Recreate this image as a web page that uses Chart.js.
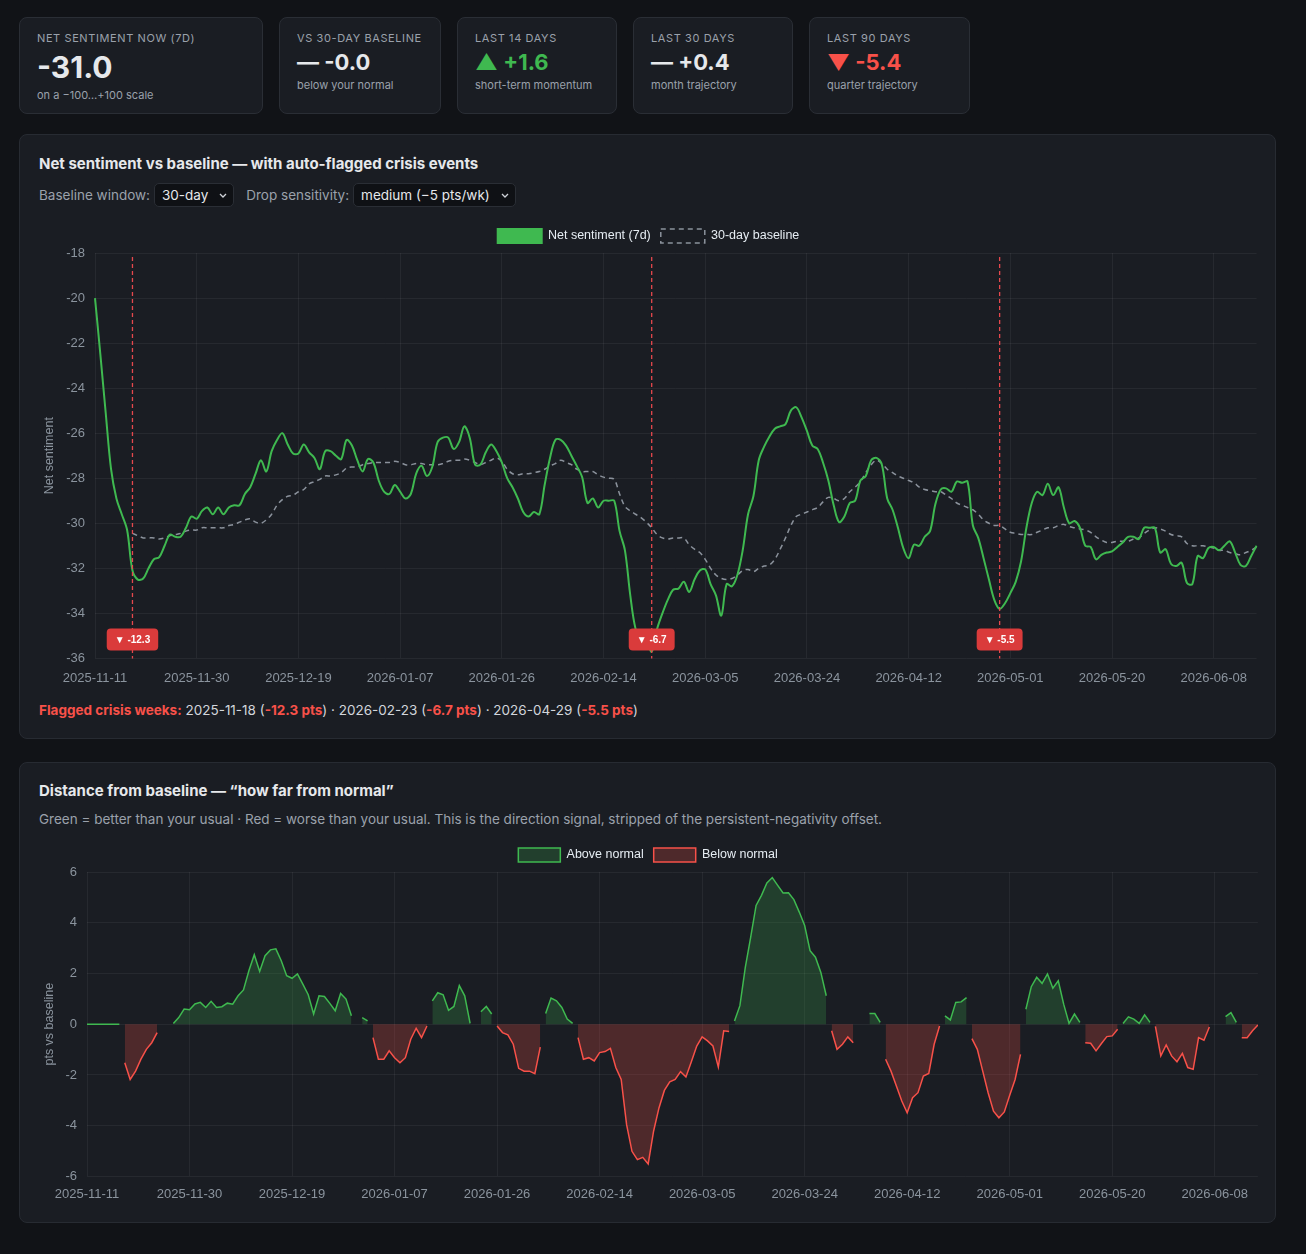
<!DOCTYPE html>
<html><head><meta charset="utf-8">
<script src="https://cdn.jsdelivr.net/npm/chart.js@4.4.1/dist/chart.umd.min.js"></script>
<style>
*{box-sizing:border-box;margin:0;padding:0}
body{background:#111317;width:1306px;height:1254px;font-family:Inter,"Noto Sans",sans-serif;color:#e6e8eb;position:relative;overflow:hidden}
.kpi{position:absolute;top:17px;height:97px;background:#1a1d23;border:1px solid #2a2e35;border-radius:8px;padding:13px 0 0 17px}
.kpi .lab{font-size:11px;letter-spacing:.6px;color:#9aa1ab;text-transform:uppercase;line-height:14px;white-space:nowrap}
.kpi .val{font-size:22px;font-weight:700;line-height:26px;margin-top:4px;white-space:nowrap}
.kpi .sub{font-size:11px;color:#9aa1ab;margin-top:3px;line-height:14px;white-space:nowrap}
.kpi.big .val{font-size:30px;line-height:36px}
.up{color:#3fb950}.down{color:#f85149}.flat{color:#e6e8eb}
.panel{position:absolute;left:19px;width:1257px;background:#1a1d23;border:1px solid #272b32;border-radius:8px}
.ptitle{position:absolute;left:19px;font-size:15px;font-weight:700;line-height:20px;color:#e6e8eb;white-space:nowrap}
.psub{position:absolute;left:19px;font-size:13.5px;line-height:18px;color:#9aa1ab;white-space:nowrap}
.ctrl{position:absolute;left:19px;top:47px;height:26px;display:flex;align-items:center;font-size:13.5px;color:#9aa1ab;white-space:nowrap}
.sel{display:inline-flex;align-items:center;height:24px;background:#0f1115;border:1px solid #2a2e35;border-radius:5px;color:#e6e8eb;padding:0 6px 0 7px;margin-left:4px;margin-right:12px}
.sel svg{margin-left:11px}
.foot{position:absolute;left:19px;top:566px;font-size:13.5px;line-height:18px;color:#d2d6dc;white-space:nowrap}
.foot .r{color:#f85149;font-weight:700}
.cw{position:absolute;left:38px}
</style></head>
<body>
<div id="kpis"></div>

<div class="panel" style="top:134px;height:605px">
  <div class="ptitle" style="top:19px">Net sentiment vs baseline — with auto-flagged crisis events</div>
  <div class="ctrl">Baseline window:<span class="sel">30-day<svg width="8" height="5" viewBox="0 0 8 5"><path d="M1 1l3 3 3-3" stroke="#cfd3d9" stroke-width="1.3" fill="none"/></svg></span>Drop sensitivity:<span class="sel">medium (−5 pts/wk)<svg width="8" height="5" viewBox="0 0 8 5"><path d="M1 1l3 3 3-3" stroke="#cfd3d9" stroke-width="1.3" fill="none"/></svg></span></div>
  <div class="foot" id="foot"></div>
</div>
<div class="cw" style="top:219px;width:1221px;height:479px"><canvas id="c1"></canvas></div>

<div class="panel" style="top:762px;height:461px">
  <div class="ptitle" style="top:18px">Distance from baseline — “how far from normal”</div>
  <div class="psub" style="top:47px">Green = better than your usual · Red = worse than your usual. This is the direction signal, stripped of the persistent-negativity offset.</div>
</div>
<div class="cw" style="top:838px;width:1220px;height:374px"><canvas id="c2"></canvas></div>

<script>
// ---------- data ----------
const START_DATE = '2025-11-11';
const DAY_COUNT = 218;

const kpiLabels = ['Net sentiment now (7d)', 'vs 30-day baseline', 'Last 14 days', 'Last 30 days', 'Last 90 days'];
const kpiValues = ['-31.0', '-0.0', '+1.6', '+0.4', '-5.4'];
const kpiDirs   = ['none', 'flat', 'up', 'flat', 'down'];
const kpiSubs   = ['on a −100…+100 scale', 'below your normal', 'short-term momentum', 'month trajectory', 'quarter trajectory'];

const crisisDates = ['2025-11-18', '2026-02-23', '2026-04-29'];
const crisisDrops = [-12.3, -6.7, -5.5];

const netSentiment = [
-20.0,-22.5,-25.1,-27.6,-28.9,-29.6,-30.3,-32.1,-32.5,-32.45,
-32.0,-31.6,-31.5,-31.0,-30.5,-30.6,-30.6,-30.2,-29.7,-29.8,
-29.45,-29.3,-29.6,-29.3,-29.6,-29.3,-29.2,-29.2,-28.7,-28.4,
-27.8,-27.2,-27.7,-26.8,-26.3,-26.0,-26.5,-26.9,-26.9,-26.5,
-26.85,-27.1,-27.6,-26.8,-26.8,-27.0,-27.15,-26.3,-26.55,-27.2,
-27.7,-27.15,-27.3,-28.1,-28.6,-28.7,-28.3,-28.6,-28.9,-28.7,
-27.8,-27.45,-27.9,-27.5,-26.4,-26.2,-26.2,-26.7,-26.4,-25.7,
-26.2,-27.4,-27.4,-26.85,-26.5,-26.8,-27.3,-28.0,-28.4,-28.9,
-29.5,-29.7,-29.5,-29.6,-28.3,-27.1,-26.3,-26.3,-26.55,-27.0,
-27.45,-27.95,-29.1,-28.9,-29.3,-29.0,-29.0,-29.0,-30.35,-31.2,
-33.2,-34.7,-35.1,-35.2,-35.7,-34.7,-34.0,-33.4,-32.95,-32.9,
-32.6,-33.05,-32.5,-32.1,-32.05,-32.7,-33.2,-34.1,-32.7,-32.8,
-32.3,-31.2,-29.6,-28.8,-27.2,-26.6,-26.15,-25.8,-25.7,-25.6,
-25.0,-24.85,-25.3,-25.9,-26.55,-26.7,-27.3,-28.1,-29.2,-29.95,
-29.7,-29.1,-29.0,-28.1,-27.9,-27.2,-27.1,-27.4,-28.9,-29.4,
-30.2,-31.1,-31.55,-30.95,-31.0,-30.6,-30.35,-29.15,-28.5,-28.45,
-28.6,-28.15,-28.2,-28.15,-30.1,-30.65,-31.55,-32.5,-33.4,-33.8,
-33.55,-33.1,-32.6,-31.7,-30.2,-29.1,-28.6,-28.75,-28.25,-28.75,
-28.4,-29.3,-30.0,-29.9,-30.2,-31.0,-31.05,-31.6,-31.4,-31.3,
-31.25,-31.05,-30.85,-30.6,-30.6,-30.7,-30.2,-30.2,-30.2,-31.3,
-31.15,-31.8,-31.9,-31.75,-32.65,-32.7,-31.45,-31.55,-31.1,-31.05,
-31.2,-31.0,-30.8,-31.3,-31.85,-31.9,-31.45,-31.0
];

const baseline30 = [
null,null,null,null,null,null,null,-30.45,-30.55,-30.65,
-30.65,-30.65,-30.7,-30.65,-30.55,-30.5,-30.45,-30.35,-30.3,-30.3,
-30.2,-30.2,-30.2,-30.2,-30.2,-30.1,-30.05,-29.95,-29.85,-29.8,
-29.95,-30.0,-29.85,-29.6,-29.2,-28.95,-28.8,-28.75,-28.6,-28.5,
-28.25,-28.15,-28.05,-27.9,-27.9,-27.85,-27.75,-27.55,-27.5,-27.5,
-27.4,-27.35,-27.3,-27.3,-27.3,-27.3,-27.25,-27.3,-27.4,-27.4,
-27.35,-27.35,-27.4,-27.4,-27.4,-27.35,-27.25,-27.2,-27.2,-27.15,
-27.2,-27.3,-27.4,-27.3,-27.2,-27.1,-27.25,-27.6,-27.8,-27.85,
-27.8,-27.8,-27.75,-27.7,-27.6,-27.45,-27.35,-27.2,-27.3,-27.4,
-27.6,-27.7,-27.7,-27.7,-27.85,-27.95,-28.0,-28.05,-28.7,-29.25,
-29.45,-29.6,-29.75,-29.95,-30.2,-30.5,-30.65,-30.7,-30.65,-30.65,
-30.65,-30.95,-31.15,-31.3,-31.6,-32.0,-32.3,-32.45,-32.5,-32.45,
-32.3,-32.1,-32.05,-32.15,-32.0,-31.9,-31.85,-31.6,-31.15,-30.65,
-30.1,-29.7,-29.6,-29.5,-29.4,-29.3,-29.05,-28.85,-28.9,-29.0,
-28.9,-28.6,-28.4,-28.15,-27.75,-27.4,-27.2,-27.35,-27.6,-27.75,
-27.9,-28.0,-28.1,-28.2,-28.4,-28.5,-28.55,-28.6,-28.6,-28.75,
-28.9,-29.1,-29.2,-29.3,-29.4,-29.6,-29.85,-30.0,-30.1,-30.1,
-30.25,-30.4,-30.45,-30.5,-30.5,-30.5,-30.4,-30.3,-30.2,-30.2,
-30.1,-30.05,-30.15,-30.2,-30.25,-30.3,-30.4,-30.6,-30.75,-30.85,
-30.85,-30.8,-30.8,-30.8,-30.7,-30.65,-30.45,-30.3,-30.2,-30.25,
-30.35,-30.5,-30.55,-30.6,-30.9,-31.0,-31.0,-31.0,-31.05,-31.1,
-31.2,-31.2,-31.3,-31.35,-31.4,-31.3,-31.2,-31.05
];

const distanceFromBaseline = [
0,0,0,0,0,0,0,-1.52,-2.18,-1.85,
-1.38,-0.99,-0.73,-0.33,0.05,-0.05,0.03,0.26,0.6,0.57,
0.8,0.86,0.66,0.9,0.66,0.69,0.83,0.79,1.12,1.35,
2.11,2.74,2.08,2.7,2.93,2.97,2.5,1.91,1.81,1.98,
1.58,1.16,0.4,1.12,1.09,0.82,0.53,1.21,0.99,0.33,
-0.05,0.26,0.13,-0.53,-1.38,-1.38,-1.05,-1.32,-1.52,-1.32,
-0.59,-0.16,-0.53,-0.07,0.92,1.24,1.16,0.55,0.7,1.52,
1.12,0.03,-0.05,0.49,0.7,0.4,-0.07,-0.33,-0.42,-0.79,
-1.74,-1.85,-1.85,-1.95,-0.9,0.42,1.03,0.92,0.66,0.2,
0.03,-0.53,-1.38,-1.32,-1.45,-1.12,-1.08,-0.95,-1.71,-2.18,
-3.96,-5.01,-5.34,-5.25,-5.51,-4.22,-3.3,-2.61,-2.27,-2.18,
-1.87,-2.08,-1.48,-0.86,-0.5,-0.66,-0.86,-1.69,-0.26,-0.29,
0.13,0.73,2.24,3.43,4.68,5.08,5.57,5.78,5.47,5.17,
5.18,4.91,4.42,3.89,2.9,2.64,2.04,1.12,-0.26,-0.99,
-0.79,-0.5,-0.73,0.03,-0.03,0.42,0.42,0.07,-1.38,-1.85,
-2.44,-3.03,-3.49,-2.9,-2.7,-2.04,-1.94,-0.79,-0.07,0.33,
0.17,0.86,0.88,1.05,-0.57,-0.99,-1.85,-2.7,-3.43,-3.69,
-3.46,-2.8,-2.18,-1.19,0.59,1.48,1.85,1.61,1.98,1.42,
1.71,0.79,0.03,0.4,0.07,-0.73,-0.75,-1.05,-0.76,-0.49,
-0.46,-0.2,0.03,0.29,0.2,0.03,0.37,0.07,-0.09,-1.25,
-0.82,-1.25,-1.48,-1.15,-1.71,-1.78,-0.53,-0.63,-0.11,0.04,
-0.03,0.3,0.46,0.07,-0.53,-0.53,-0.26,-0.03
];

// category labels (one per day)
const dayLabels = [];
{
  const [yy, mm, dd] = START_DATE.split('-').map(Number);
  const t0 = Date.UTC(yy, mm - 1, dd);
  for (let i = 0; i < DAY_COUNT; i++) dayLabels.push(new Date(t0 + i * 86400000).toISOString().slice(0, 10));
}

// ---------- KPI cards ----------
const kpiBox = [[19,244],[279,162],[457,160],[633,160],[809,161]];
const glyph = {none:'', flat:'— ', up:'▲ ', down:'▼ '};
document.getElementById('kpis').innerHTML = kpiLabels.map((l, i) =>
  `<div class="kpi${i===0?' big':''}" style="left:${kpiBox[i][0]}px;width:${kpiBox[i][1]}px">
     <div class="lab">${l}</div>
     <div class="val ${kpiDirs[i]}">${glyph[kpiDirs[i]]}${kpiValues[i]}</div>
     <div class="sub">${kpiSubs[i]}</div></div>`).join('');

// ---------- footer ----------
document.getElementById('foot').innerHTML = '<span class="r">Flagged crisis weeks:</span> ' +
  crisisDates.map((d, i) => `${d} (<span class="r">${crisisDrops[i].toFixed(1)} pts</span>)`).join(' · ');

// ---------- charts ----------
const GRID = 'rgba(255,255,255,0.055)';
const TICK = '#8b949e';
Chart.defaults.font.family = "'Helvetica Neue', Helvetica, Arial, 'Liberation Sans', sans-serif";

const crisisPlugin = {
  id: 'crisis',
  afterDatasetsDraw(chart) {
    const {ctx, chartArea, scales: {x}} = chart;
    crisisDates.forEach((d, i) => {
      const idx = dayLabels.indexOf(d);
      if (idx < 0) return;
      const px = x.getPixelForValue(idx);
      ctx.save();
      ctx.strokeStyle = '#e5484d';
      ctx.lineWidth = 1.3;
      ctx.setLineDash([4, 3]);
      ctx.beginPath();
      ctx.moveTo(px, chartArea.top + 4);
      ctx.lineTo(px, chartArea.bottom);
      ctx.stroke();
      ctx.setLineDash([]);
      const text = '▼ ' + crisisDrops[i].toFixed(1);
      ctx.font = "bold 10px 'Helvetica Neue', Helvetica, Arial, sans-serif";
      const w = ctx.measureText(text).width + 16, h = 22;
      const bx = px - w / 2, by = chartArea.bottom - 30;
      ctx.fillStyle = '#da3b3b';
      ctx.beginPath();
      ctx.roundRect(bx, by, w, h, 4);
      ctx.fill();
      ctx.fillStyle = '#ffffff';
      ctx.textAlign = 'center';
      ctx.textBaseline = 'middle';
      ctx.fillText(text, px, by + h / 2 + 0.5);
      ctx.restore();
    });
  }
};

const xAxis = (pad) => ({
  grid: {color: GRID, drawTicks: false},
  border: {display: false},
  ticks: {color: TICK, font: {size: 13}, maxRotation: 0, minRotation: 0, autoSkip: true, maxTicksLimit: 12, padding: pad}
});

new Chart(document.getElementById('c1'), {
  type: 'line',
  data: {
    labels: dayLabels,
    datasets: [
      {label: 'Net sentiment (7d)', data: netSentiment, borderColor: '#3fb950', backgroundColor: '#3fb950',
       borderWidth: 2, pointRadius: 0, tension: 0.35, fill: false},
      {label: '30-day baseline', data: baseline30, borderColor: '#8b929c', backgroundColor: 'rgba(0,0,0,0)',
       borderWidth: 1.5, borderDash: [5, 4], pointRadius: 0, tension: 0.35, fill: false}
    ]
  },
  options: {
    responsive: true, maintainAspectRatio: false, animation: false,
    layout: {padding: 0},
    plugins: {
      legend: {labels: {color: '#e6edf3', boxWidth: 44, boxHeight: 14, font: {size: 12.5}}},
      tooltip: {enabled: false}
    },
    scales: {
      x: xAxis(12),
      y: {
        min: -36, max: -18,
        grid: {color: GRID, drawTicks: false}, border: {display: false},
        ticks: {stepSize: 2, color: TICK, font: {size: 13}, padding: 10},
        title: {display: true, text: 'Net sentiment', color: TICK, font: {size: 12.5}},
        afterFit(s) { s.width = 57; }
      }
    }
  },
  plugins: [crisisPlugin]
});

new Chart(document.getElementById('c2'), {
  type: 'line',
  data: {
    labels: dayLabels,
    datasets: [
      {label: 'Above normal', data: distanceFromBaseline.map(v => v >= 0 ? v : null),
       borderColor: '#3fb950', backgroundColor: 'rgba(63,185,80,0.22)', borderWidth: 1.5,
       pointRadius: 0, tension: 0, fill: 'origin', spanGaps: false},
      {label: 'Below normal', data: distanceFromBaseline.map(v => v < 0 ? v : null),
       borderColor: '#f85149', backgroundColor: 'rgba(248,81,73,0.24)', borderWidth: 1.5,
       pointRadius: 0, tension: 0, fill: 'origin', spanGaps: false}
    ]
  },
  options: {
    responsive: true, maintainAspectRatio: false, animation: false,
    layout: {padding: 0},
    plugins: {
      legend: {labels: {color: '#e6edf3', boxWidth: 42, boxHeight: 14, font: {size: 12.5}}},
      tooltip: {enabled: false}
    },
    scales: {
      x: xAxis(10),
      y: {
        min: -6, max: 6,
        grid: {color: GRID, drawTicks: false}, border: {display: false},
        ticks: {stepSize: 2, color: TICK, font: {size: 13}, padding: 10},
        title: {display: true, text: 'pts vs baseline', color: TICK, font: {size: 12.5}},
        afterFit(s) { s.width = 49; }
      }
    }
  }
});
</script>
</body></html>
